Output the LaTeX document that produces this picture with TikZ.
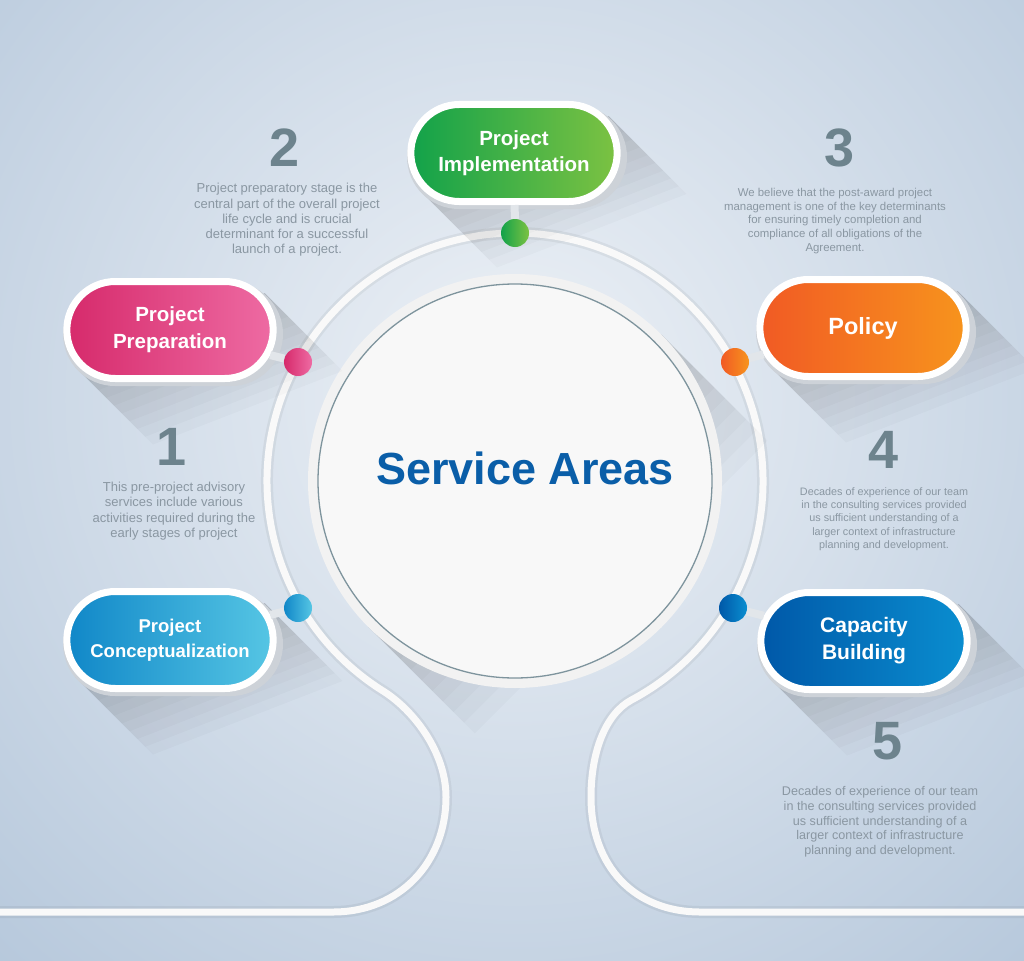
\documentclass[tikz,border=0pt]{standalone}
\usepackage{fontspec}
\setmainfont{Liberation Sans}
\usetikzlibrary{shapes.misc,calc}
\definecolor{bgout}{HTML}{ADC1D7}
\definecolor{bgin}{HTML}{EEF2F7}
\definecolor{numcol}{HTML}{6D838D}
\definecolor{desccol}{HTML}{8A97A2}
\definecolor{titlecol}{HTML}{0A5EA8}
\definecolor{trackcol}{HTML}{F9F9F9}
\definecolor{stemcol}{HTML}{E2E6EA}
\definecolor{ringcol}{HTML}{F2F2F2}
\definecolor{facecol}{HTML}{F8F8F8}
\definecolor{edgecol}{HTML}{7E949D}
\definecolor{rimcol}{HTML}{CDD2D8}
\definecolor{greenA}{HTML}{12A24A}
\definecolor{greenB}{HTML}{7CC242}
\definecolor{pinkA}{HTML}{D62A6B}
\definecolor{pinkB}{HTML}{EE6BA3}
\definecolor{orangeA}{HTML}{F15A24}
\definecolor{orangeB}{HTML}{F7941D}
\definecolor{skyA}{HTML}{1087C8}
\definecolor{skyB}{HTML}{56C6E4}
\definecolor{navyA}{HTML}{0058A8}
\definecolor{navyB}{HTML}{0A8ED0}
\tikzset{
  pill/.style={rounded rectangle, minimum width=213pt, minimum height=97pt, draw=white, line width=7pt, text=white, align=center},
  pillbase/.style={rounded rectangle, minimum width=220pt, minimum height=104pt, inner sep=0pt, fill=rimcol},
  pindot/.style={circle, minimum size=28pt, inner sep=0pt},
  stemline/.style={draw=stemcol, line width=8pt},
  trackline/.style={draw=trackcol, line width=7pt},
  shadowstep/.style={fill=black, opacity=0.02},
  numtext/.style={text=numcol, font=\bfseries\fontsize{54}{54}\selectfont},
  desctext/.style={text=desccol, align=center}
}
% soft long shadow, built from stacked steps
\newcommand*{\longshadow}[4]{\foreach \k in {1,...,10} {\fill[shadowstep] ($(#1)+(#2,0)+(-45:#3)$) -- ++(45:{#4*\k/10}) -- ($(#1)+(-#2,0)+(135:#3)+(45:{#4*\k/10})$) -- ($(#1)+(-#2,0)+(135:#3)$) -- cycle;}}
\def\trackpath{(0,912) -- (333,912) .. controls (400,912) and (446,862) .. (446,797) .. controls (446,752) and ($(tl)+(30,19)$) .. (tl) arc[start angle=122, end angle=422, radius=248] .. controls ($(tr)+(-26,14)$) and (591,752) .. (591,797) .. controls (591,868) and (636,912) .. (700,912) -- (1024,912)}

\begin{document}
\begin{tikzpicture}[x=1pt,y=-1pt]
  \useasboundingbox (0,0) rectangle (1024,960);
  \clip (0,0) rectangle (1024,960);
  \fill[bgout] (0,0) rectangle (1024,960);
  \shade[inner color=bgin, outer color=bgout] (515,400) circle[radius=900];
  %
  \coordinate (cen) at (515,481);
  \coordinate (tl) at ($(cen)+(122:248)$);
  \coordinate (tr) at ($(cen)+(62:248)$);
  \draw[draw=black, opacity=0.05, line width=12pt] \trackpath;
  \draw[trackline] \trackpath;
  %
  \longshadow{cen}{0}{207}{150};
  \fill[ringcol] (cen) circle[radius=207];
  \fill[facecol] (cen) circle[radius=197];
  \draw[edgecol, line width=1.3pt] (cen) circle[radius=197];
  \node[text=titlecol, font=\bfseries\fontsize{45}{45}\selectfont] (title) at (525,468) {Service Areas};
  %
  \foreach \nm/\px/\py/\dx/\dy/\ca/\cb/\fs/\ls/\txt in {
      impl/514/153/515/233/greenA/greenB/20.5/26/{Project\\Implementation},
      prep/170/330/298/362/pinkA/pinkB/20.5/27/{Project\\Preparation},
      pol/863/328/735/362/orangeA/orangeB/23.5/28/{Policy},
      conc/170/640/298/608/skyA/skyB/18.5/25/{Project\\Conceptualization},
      cap/864/641/733/608/navyA/navyB/21/27/{Capacity\\Building}} {
    \coordinate (\nm-c) at (\px,\py);
    \longshadow{\nm-c}{58}{52}{110};
    \node[pillbase] (\nm-base) at ({\px+3},{\py+4}) {};
    \node[pill, left color=\ca, right color=\cb, font=\fontsize{\fs}{\ls}\selectfont\bfseries] (\nm) at (\nm-c) {\txt};
    \node[pindot, left color=\ca, right color=\cb] (\nm-dot) at (\dx,\dy) {};
    \draw[stemline] (\nm) -- (\nm-dot);
  }
  %
  \node[numtext] (n1) at (172,447) {1};
  \node[numtext] (n2) at (285,148) {2};
  \node[numtext] (n3) at (840,148) {3};
  \node[numtext] (n4) at (884,450) {4};
  \node[numtext] (n5) at (888,741) {5};
  %
  \node[desctext, font=\fontsize{13}{15.3}\selectfont] (d1) at (174,511) {This pre-project advisory\\services include various\\activities required during the\\early stages of project};
  \node[desctext, font=\fontsize{13}{15.3}\selectfont] (d2) at (287,220) {Project preparatory stage is the\\central part of the overall project\\life cycle and is crucial\\determinant for a successful\\launch of a project.};
  \node[desctext, font=\fontsize{11.4}{13.8}\selectfont] (d3) at (835,221) {We believe that the post-award project\\management is one of the key determinants\\for ensuring timely completion and\\compliance of all obligations of the\\Agreement.};
  \node[desctext, font=\fontsize{10.8}{13.3}\selectfont] (d4) at (884,519) {Decades of experience of our team\\in the consulting services provided\\us sufficient understanding of a\\larger context of infrastructure\\planning and development.};
  \node[desctext, font=\fontsize{12.6}{14.7}\selectfont] (d5) at (880,822) {Decades of experience of our team\\in the consulting services provided\\us sufficient understanding of a\\larger context of infrastructure\\planning and development.};
\end{tikzpicture}
\end{document}
